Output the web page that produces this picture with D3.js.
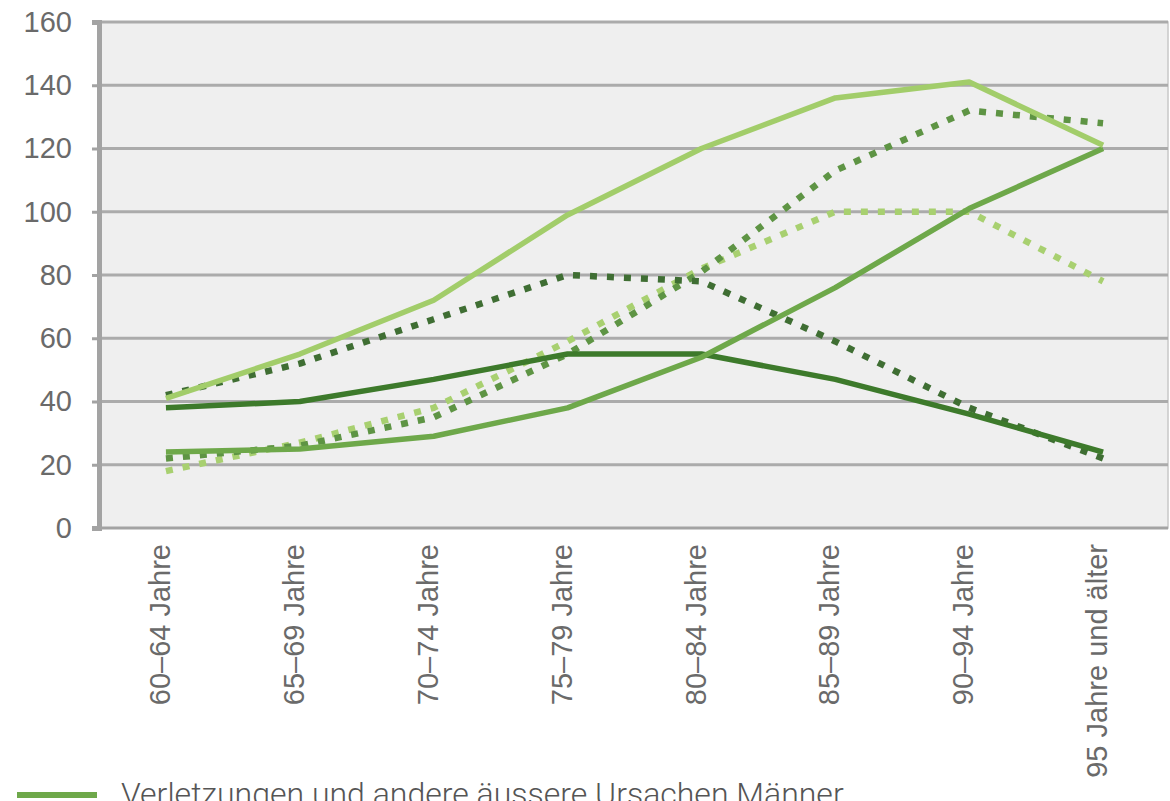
<!DOCTYPE html>
<html>
<head>
<meta charset="utf-8">
<script src="https://cdn.jsdelivr.net/npm/d3@7/dist/d3.min.js"></script>
<style>
  html, body { margin: 0; padding: 0; background: #fff; }
  svg { display: block; font-family: Roboto, "Open Sans", sans-serif; }
</style>
</head>
<body>
<svg id="chart" width="1170" height="801"></svg>
<script>
// Age groups on the x axis
const categories = ["60–64 Jahre", "65–69 Jahre", "70–74 Jahre", "75–79 Jahre",
                    "80–84 Jahre", "85–89 Jahre", "90–94 Jahre", "95 Jahre und älter"];
const yTicks = [0, 20, 40, 60, 80, 100, 120, 140, 160];

// Rates per age group
const lightSolid   = [41, 55, 72, 99, 120, 136, 141, 121];
const mediumSolid  = [24, 25, 29, 38, 54, 76, 101, 120];
const darkSolid    = [38, 40, 47, 55, 55, 47, 36, 24];
const darkDotted   = [42, 52, 66, 80, 78, 59, 38, 22];
const mediumDotted = [22, 26, 35, 55, 81, 113, 132, 128];
const lightDotted  = [18, 27, 38, 59, 82, 100, 100, 78];

const seriesNames = ["Verletzungen und andere äussere Ursachen Männer"];

const series = [
  { values: lightDotted,  color: "#a8d070", dash: "7,10" },
  { values: mediumDotted, color: "#5e9444", dash: "7,10" },
  { values: darkDotted,   color: "#3f6e33", dash: "7,10" },
  { values: darkSolid,    color: "#3d7a2b", dash: null },
  { values: mediumSolid,  color: "#6ea84a", dash: null },
  { values: lightSolid,   color: "#a2cd6a", dash: null }
];

const svg = d3.select("#chart");
const plotLeft = 99, plotRight = 1168, plotTop = 22, plotBottom = 528;

const x = d3.scaleBand().domain(categories).range([plotLeft, plotRight + 2]);
const y = d3.scaleLinear().domain([0, 160]).range([plotBottom, plotTop]);

// Plot background
svg.append("rect")
  .attr("x", plotLeft).attr("y", plotTop)
  .attr("width", plotRight - plotLeft).attr("height", plotBottom - plotTop)
  .attr("fill", "#efefef")
  .attr("stroke", "#c8c8c8").attr("stroke-width", 1.5);

// Horizontal grid lines
svg.append("g")
  .selectAll("line")
  .data(yTicks.filter(d => d > 0))
  .join("line")
  .attr("x1", plotLeft).attr("x2", plotRight)
  .attr("y1", d => y(d)).attr("y2", d => y(d))
  .attr("stroke", "#ababab").attr("stroke-width", 3);

// Y axis
const yAxis = svg.append("g")
  .attr("transform", `translate(${plotLeft},0)`)
  .call(d3.axisLeft(y).tickValues(yTicks).tickSize(7).tickPadding(20));
yAxis.select(".domain").attr("stroke", "#a3a3a3").attr("stroke-width", 5);
yAxis.selectAll(".tick line").attr("stroke", "#a3a3a3").attr("stroke-width", 3);
yAxis.selectAll(".tick text")
  .attr("fill", "#6a6a6a").attr("font-size", 29).attr("font-weight", 300);

// X axis
const xAxis = svg.append("g")
  .attr("transform", `translate(0,${plotBottom})`)
  .call(d3.axisBottom(x).tickSize(0).tickPadding(0));
xAxis.select(".domain").remove();
svg.append("line")
  .attr("x1", plotLeft - 7).attr("x2", plotRight)
  .attr("y1", plotBottom).attr("y2", plotBottom)
  .attr("stroke", "#a3a3a3").attr("stroke-width", 3);
xAxis.selectAll(".tick text")
  .attr("transform", "rotate(-90)")
  .attr("text-anchor", "end")
  .attr("x", -16).attr("y", -6)
  .attr("dy", "0.35em")
  .attr("fill", "#6a6a6a").attr("font-size", 29).attr("font-weight", 300);

// Series lines
const line = d3.line()
  .x((d, i) => x(categories[i]) + x.bandwidth() / 2)
  .y(d => y(d));

svg.append("g")
  .selectAll("path")
  .data(series)
  .join("path")
  .attr("d", d => line(d.values))
  .attr("fill", "none")
  .attr("stroke", d => d.color)
  .attr("stroke-width", d => d.dash ? 6.5 : 5.5)
  .attr("stroke-dasharray", d => d.dash)
  .attr("stroke-linejoin", "round");

// Legend
const legend = svg.append("g").attr("transform", "translate(17,795)");
legend.append("line")
  .attr("x1", 0).attr("x2", 80).attr("y1", 0).attr("y2", 0)
  .attr("stroke", "#6ea84a").attr("stroke-width", 6);
legend.append("text")
  .attr("x", 104).attr("y", 10)
  .attr("fill", "#555").attr("font-size", 32).attr("font-weight", 300)
  .text(seriesNames[0]);
</script>
</body>
</html>
